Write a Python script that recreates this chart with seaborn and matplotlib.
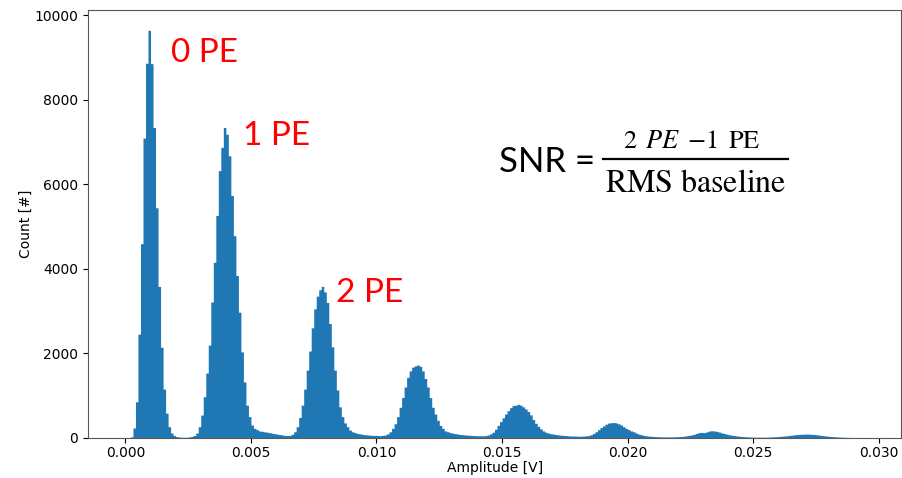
import numpy as np
import pandas as pd
import seaborn as sns
import matplotlib.pyplot as plt
from matplotlib.lines import Line2D

# Histogram: bins of 0.1 mV starting at 0 V
amp_start = 0.0
amp_step = 0.0001
counts = [
    0, 0, 20, 230, 850, 2450, 4590, 7090, 8860, 9640,            # 0.0000
    8850, 7340, 5440, 3580, 2140, 1150, 580, 260, 110, 50,       # 0.0010
    25, 15, 10, 10, 12, 18, 30, 50, 110, 260,                    # 0.0020
    535, 970, 1530, 2190, 3210, 4150, 5260, 6320, 6870, 7340,    # 0.0030
    7180, 6670, 5730, 4780, 3840, 2970, 2030, 1320, 770, 500,    # 0.0040
    300, 220, 190, 160, 150, 140, 130, 120, 105, 95,             # 0.0050
    85, 75, 65, 55, 50, 55, 80, 140, 260, 480,                   # 0.0060
    770, 1150, 1600, 2050, 2600, 3050, 3350, 3500, 3580, 3450,   # 0.0070
    3200, 2700, 2150, 1600, 1130, 730, 500, 350, 260, 180,       # 0.0080
    140, 120, 100, 90, 80, 70, 65, 60, 55, 55,                   # 0.0090
    50, 50, 55, 65, 90, 140, 220, 330, 500, 720,                 # 0.0100
    950, 1200, 1430, 1580, 1670, 1700, 1720, 1690, 1580, 1400,   # 0.0110
    1200, 950, 720, 560, 410, 290, 220, 160, 140, 120,           # 0.0120
    105, 95, 85, 75, 70, 65, 60, 55, 50, 50,                     # 0.0130
    45, 45, 45, 50, 65, 90, 130, 200, 290, 380,                  # 0.0140
    470, 560, 640, 710, 760, 770, 790, 770, 730, 680,            # 0.0150
    620, 540, 430, 340, 270, 210, 160, 130, 110, 95,             # 0.0160
    85, 75, 65, 60, 55, 50, 45, 40, 40, 38,                      # 0.0170
    36, 35, 38, 45, 50, 70, 100, 140, 190, 240,                  # 0.0180
    280, 320, 345, 355, 360, 350, 330, 300, 260, 220,            # 0.0190
    190, 160, 140, 110, 85, 70, 55, 45, 38, 32,                  # 0.0200
    28, 25, 22, 20, 20, 18, 18, 18, 20, 22,                      # 0.0210
    25, 30, 35, 45, 55, 65, 80, 100, 120, 125,                   # 0.0220
    120, 135, 155, 165, 160, 150, 135, 115, 100, 85,             # 0.0230
    70, 60, 50, 42, 35, 30, 25, 20, 18, 15,                      # 0.0240
    13, 12, 12, 12, 12, 13, 15, 18, 22, 25,                      # 0.0250
    30, 35, 40, 45, 52, 60, 68, 74, 78, 82,                      # 0.0260
    84, 85, 84, 80, 75, 68, 60, 52, 45, 38,                      # 0.0270
    32, 27, 22, 18, 15, 12, 10, 8, 7, 6,                         # 0.0280
    5, 4, 3, 3, 2,                                               # 0.0290
]
pe_labels = ['0 PE', '1 PE', '2 PE']

edges = amp_start + amp_step * np.arange(len(counts) + 1)
df = pd.DataFrame({'amplitude': (edges[:-1] + edges[1:]) / 2, 'count': counts})

W, H = 903, 478
def fx(px):
    return px / W
def fy(py):
    return 1 - py / H

fig = plt.figure(figsize=(W / 100, H / 100), dpi=100)
ax = fig.add_axes([fx(88), fy(437.7), fx(901.5) - fx(88), fy(10) - fy(437.7)])

# filled step outline -> solid histogram like plt.hist
sns.histplot(data=df, x='amplitude', weights='count', bins=list(edges),
             element='step', fill=True, color='#1f77b4', alpha=1,
             linewidth=0, ax=ax)

ax.set_xlim(-0.00149, 0.03091)
ax.set_ylim(0, 10120)
ax.set_xlabel('Amplitude [V]', fontsize=10, labelpad=1)
ax.set_ylabel('Count [#]', fontsize=10, labelpad=1)
ax.tick_params(labelsize=10)
ax.tick_params(axis='x', pad=2.5)
for s in ax.spines.values():
    s.set_color('0.35')

# annotations
red_pos = [(171, 61.7), (243, 145), (336, 301.7)]
for lab, (px, py) in zip(pe_labels, red_pos):
    fig.text(fx(px), fy(py), lab, color='red', fontsize=24, family='Lato',
             ha='left', va='baseline')

fig.text(fx(499), fy(171.7), 'SNR =', color='black', fontsize=25, family='Lato',
         ha='left', va='baseline')
fig.text(fx(692), fy(148), r'$2\ \,PE\ \,{-}1\ \,\mathrm{PE}$', math_fontfamily='stix',
         fontsize=19, ha='center', va='baseline')
fig.add_artist(Line2D([fx(603), fx(788)], [fy(158.8), fy(158.8)], color='black', lw=1.6))
fig.text(fx(695.5), fy(191.7), r'$\mathrm{RMS\ baseline}$', math_fontfamily='stix',
         fontsize=23, ha='center', va='baseline')

fig.savefig('out.png', dpi=100)
